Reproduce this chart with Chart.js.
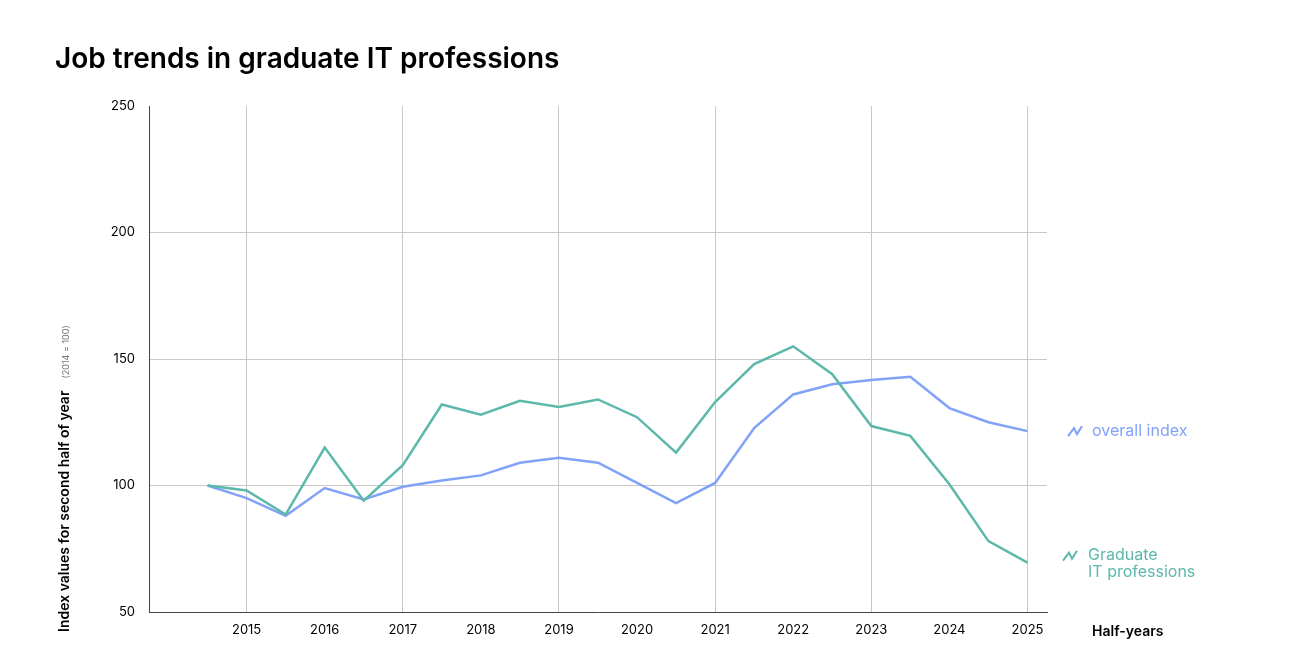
<!DOCTYPE html>
<html><head><meta charset="utf-8">
<script src="https://cdn.jsdelivr.net/npm/chart.js@4"></script>
<style>html,body{margin:0;padding:0;background:#fff;overflow:hidden}</style>
</head><body><canvas id="c" width="1289" height="667" style="display:block;width:1289px;height:667px"></canvas>
<script>
const halfYears = ['2014 H2','2015 H1','2015 H2','2016 H1','2016 H2','2017 H1','2017 H2','2018 H1','2018 H2','2019 H1','2019 H2','2020 H1','2020 H2','2021 H1','2021 H2','2022 H1','2022 H2','2023 H1','2023 H2','2024 H1','2024 H2','2025 H1'];
const itProfessions = [100,98,88.5,115,94,108,132,128,133.5,131,134,127,113,133,148,155,144,123.5,119.6,100.5,78,69.5];
const overallIndex = [100,95,88,99,94.5,99.5,102,104,109,111,109,101,93,101,122.7,136,140,141.7,143,130.6,125,121.5];
const yearLabels = ['2015','2016','2017','2018','2019','2020','2021','2022','2023','2024','2025'];
const yTicks = [50,100,150,200,250];

const FONT = 'Inter, "Noto Sans", sans-serif';
const teal = '#5cb8aa', blue = '#80a2f8';
const pts = a => a.map((v,i)=>({x:i,y:v}));

const deco = {
  id:'deco',
  afterDraw(chart){
    const c = chart.ctx, ys = chart.scales.y;
    c.save();
    c.fillStyle='#000'; c.font='600 28px '+FONT; c.textBaseline='alphabetic';
    c.fillText('Job trends in graduate IT professions',55,68);
    c.save(); c.translate(69,632); c.rotate(-Math.PI/2);
    c.font='600 14px '+FONT; c.fillText('Index values for second half of year',0,0);
    const w=c.measureText('Index values for second half of year').width;
    c.font='9px '+FONT; c.fillStyle='#777'; c.fillText('(2014 = 100)',w+12,0);
    c.restore();
    c.font='600 14px '+FONT; c.fillStyle='#000'; c.fillText('Half-years',1092,636);
    function icon(x,y,col){c.strokeStyle=col;c.lineWidth=2;c.beginPath();c.moveTo(x,y+5);c.lineTo(x+6,y-3);c.lineTo(x+9,y+3);c.lineTo(x+14,y-5);c.stroke();}
    c.font='16px '+FONT;
    const yb=ys.getPixelForValue(overallIndex[21]);
    icon(1068,yb,blue); c.fillStyle=blue; c.textBaseline='middle'; c.fillText('overall index',1092,yb);
    const yt=ys.getPixelForValue(itProfessions[21]);
    icon(1063,yt-7,teal); c.fillStyle=teal; c.fillText('Graduate',1088,yt-7); c.fillText('IT professions',1088,yt+10);
    c.restore();
  }
};

new Chart(document.getElementById('c'),{
  type:'line',
  data:{datasets:[
    {label:'Graduate IT professions',data:pts(itProfessions),borderColor:teal,borderWidth:2.5,pointRadius:0,tension:0},
    {label:'overall index',data:pts(overallIndex),borderColor:blue,borderWidth:2.5,pointRadius:0,tension:0}
  ]},
  options:{
    responsive:false,animation:false,devicePixelRatio:1,
    layout:{padding:{left:60,right:242,top:106,bottom:20}},
    plugins:{legend:{display:false},tooltip:{enabled:false}},
    scales:{
      x:{type:'linear',min:-1.5,max:21.5,
        afterBuildTicks(s){s.ticks=yearLabels.map((_,k)=>({value:1+2*k}));},
        afterFit(s){s.height=35;},
        ticks:{callback:(v)=>yearLabels[(v-1)/2],color:'#000',font:{family:FONT,size:13},padding:10,maxRotation:0,autoSkip:false},
        grid:{drawTicks:false,color:ctx=>(ctx.tick&&((ctx.tick.value-1)%4===0))?'#c8c8c8':'rgba(0,0,0,0)'},
        border:{color:'#444',width:1}},
      y:{min:50,max:250,
        afterBuildTicks(s){s.ticks=yTicks.map(v=>({value:v}));},
        afterFit(s){s.width=89;},
        ticks:{color:'#000',font:{family:FONT,size:13},padding:14},
        grid:{drawTicks:false,color:ctx=>(ctx.tick&&ctx.tick.value>50&&ctx.tick.value<250)?'#c8c8c8':'rgba(0,0,0,0)'},
        border:{color:'#444',width:1}}
    }
  },
  plugins:[deco]
});
</script>
</body></html>
